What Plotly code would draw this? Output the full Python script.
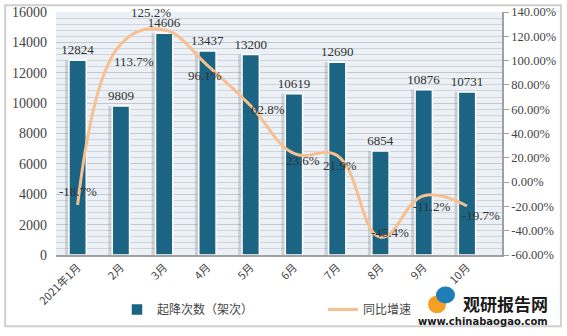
import plotly.graph_objects as go

months = ["2021年1月", "2月", "3月", "4月", "5月", "6月", "7月", "8月", "9月", "10月"]
flights = [12824, 9809, 14606, 13437, 13200, 10619, 12690, 6854, 10876, 10731]
growth = [-18.7, 113.7, 125.2, 96.1, 62.8, 23.6, 21.9, -45.4, -11.2, -19.7]
growth_labels = ["-18.7%", "113.7%", "125.2%", "96.1%", "62.8%", "23.6%", "21.9%", "-45.4%", "-11.2%", "-19.7%"]
label_shift = [(0, 13), (13, -18), (-13, 17), (-2, -10), (17, -4), (9, -7), (3, -10), (10, 5), (8, -11), (14, -9)]
right_ticks = [-60, -40, -20, 0, 20, 40, 60, 80, 100, 120, 140]

FONT = "Liberation Serif, Noto Sans CJK SC, serif"
BAR = "#1b6484"
LINE = "#f8c08e"

fig = go.Figure()
# soft shadow behind bars
fig.add_trace(go.Bar(x=months, y=flights, width=0.5, offset=-0.29,
                     marker=dict(color="rgba(110,110,110,0.25)", line=dict(width=0)),
                     showlegend=False, hoverinfo="skip"))
fig.add_trace(go.Bar(x=months, y=flights, width=0.4, offset=-0.2, name="起降次数（架次）",
                     marker=dict(color=BAR, line=dict(color="white", width=1.5)),
                     text=[str(v) for v in flights], textposition="outside", constraintext="none",
                     textfont=dict(family=FONT, size=13, color="#333333"), cliponaxis=False,
                     legend="legend"))
fig.add_trace(go.Scatter(x=months, y=growth, yaxis="y2", name="同比增速", mode="lines",
                         line=dict(color=LINE, width=3, shape="spline", smoothing=1.2),
                         legend="legend2"))

for m, g, t, (dx, dy) in zip(months, growth, growth_labels, label_shift):
    fig.add_annotation(x=m, y=g, xref="x", yref="y2", text=t, showarrow=False,
                       xshift=dx, yshift=dy, font=dict(family=FONT, size=13, color="#333333"))

# watermark
fig.add_annotation(xref="paper", yref="paper", x=1.108, y=-0.199, text="<b>观研报告网</b>",
                   showarrow=False, xanchor="right", yanchor="middle",
                   font=dict(family="Noto Sans CJK SC", size=17, color="#1a1a1a"))
fig.add_annotation(xref="paper", yref="paper", x=1.108, y=-0.272, text="<b>www.chinabaogao.com</b>",
                   showarrow=False, xanchor="right", yanchor="middle",
                   font=dict(family="DejaVu Sans", size=10, color="#1a1a1a"))
# logo blobs
fig.add_shape(type="circle", xref="paper", yref="paper",
              x0=(428 - 56) / 446, x1=(446 - 56) / 446, y0=(258 - 317) / 246, y1=(258 - 299) / 246,
              line=dict(width=0), fillcolor="#f4a024")
fig.add_shape(type="circle", xref="paper", yref="paper",
              x0=(436 - 56) / 446, x1=(455 - 56) / 446, y0=(258 - 307) / 246, y1=(258 - 290) / 246,
              line=dict(width=0), fillcolor="#1e7fb8")

fig.add_shape(type="rect", xref="paper", yref="paper", x0=-0.114, x1=1.132, y0=-0.293, y1=1.028,
              line=dict(color="#cfcfcf", width=2), fillcolor="rgba(0,0,0,0)", layer="below")

fig.update_layout(
    width=567, height=336,
    margin=dict(l=56, r=65, t=12, b=78),
    paper_bgcolor="white", plot_bgcolor="#ebf1f6",
    barmode="overlay",
    font=dict(family=FONT, size=13, color="#333333"),
    showlegend=True,
    legend=dict(orientation="h", x=(117 - 56) / 446, xanchor="left", y=-0.224, yanchor="middle",
                font=dict(family="Noto Sans CJK SC", size=12, color="#444444"),
                bgcolor="rgba(0,0,0,0)"),
    legend2=dict(orientation="h", x=(323 - 56) / 446, xanchor="left", y=-0.224, yanchor="middle",
                 font=dict(family="Noto Sans CJK SC", size=12, color="#444444"),
                 bgcolor="rgba(0,0,0,0)"),
    xaxis=dict(type="category", tickangle=-45, showgrid=False, showline=True,
               linecolor="#a0a0a0", linewidth=1.5, ticks="", automargin=False,
               tickfont=dict(family="Noto Sans CJK SC", size=11, color="#444444")),
    yaxis=dict(range=[0, 16000], dtick=2000, tickformat="d", showgrid=True, gridcolor="#c4c8cc", gridwidth=1,
               minor=dict(dtick=400, showgrid=True, gridcolor="#d0d4d8", gridwidth=1),
               zeroline=False, showline=False, ticks="", automargin=False, ticklabelstandoff=8,
               tickfont=dict(family=FONT, size=14, color="#444444")),
    yaxis2=dict(overlaying="y", side="right", range=[-60, 140], tickvals=right_ticks,
                ticktext=[f"{v:.2f}%" for v in right_ticks], showgrid=False, zeroline=False,
                showline=True, linecolor="#a0a0a0", linewidth=1.5, ticks="outside", ticklen=5,
                tickcolor="#a0a0a0", automargin=False,
                tickfont=dict(family=FONT, size=12.5, color="#444444")),
)

fig.write_html("out.html")
